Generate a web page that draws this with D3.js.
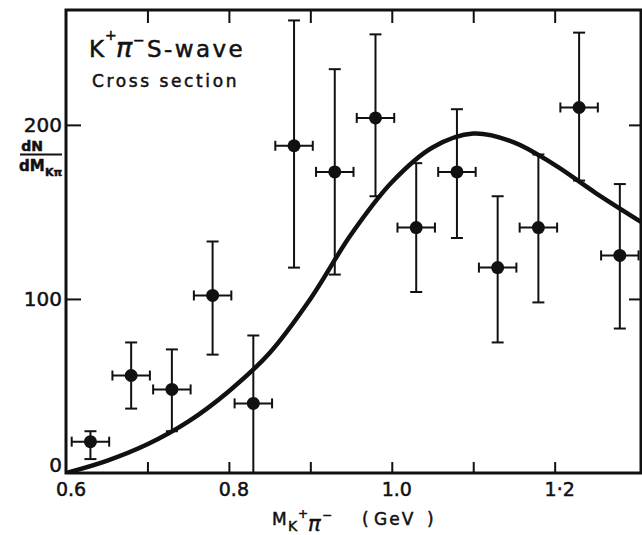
<!DOCTYPE html>
<html>
<head>
<meta charset="utf-8">
<script src="https://cdn.jsdelivr.net/npm/d3@7"></script>
<style>
  body { margin: 0; background: #fff; }
  text { font-family: 'DejaVu Sans', sans-serif; fill: #111; stroke: #111; stroke-width: 0.5px; }
</style>
</head>
<body>
<div id="chart"></div>
<script>
// data
const mass = [0.63, 0.68, 0.73, 0.78, 0.83, 0.88, 0.93, 0.98, 1.03, 1.08, 1.13, 1.18, 1.23, 1.28]
const counts = [18, 56, 48, 102, 40, 188, 173, 204, 141, 173, 118, 141, 210, 125]
const errHigh = [24, 75, 71, 133, 79, 260, 232, 252, 178, 209, 159, 183, 253, 166]
const errLow = [8, 37, 24, 68, 0, 118, 114, 159, 104, 135, 75, 98, 168, 83]
const binHalf = 0.023

// fitted curve, read every 0.05 GeV
const curveMass = [0.6, 0.65, 0.7, 0.75, 0.8, 0.85, 0.9, 0.95, 1.0, 1.05, 1.1, 1.15, 1.2, 1.25, 1.307]
const curveValue = [0, 7, 16.5, 29.5, 47, 69, 100, 137, 167, 187, 195, 190, 177, 161, 144]

// ticks
const xTicks = [0.7, 0.8, 0.9, 1.0, 1.1, 1.2]
const xLabels = [0.6, 0.8, 1.0, 1.2]
const xLabelText = ['0.6', '0.8', '1.0', '1·2']
const yTicks = [100, 200]
const yLabels = [0, 100, 200]

// size
const margin = { left: 66, right: 1, top: 10, bottom: 62 }
const width = 642 - margin.left - margin.right
const height = 535 - margin.top - margin.bottom

// scale
const x = d3.scaleLinear().domain([0.6, 1.306]).range([0, width])
const y = d3.scaleLinear().domain([0, 266]).range([height, 0])

const svg = d3
  .select('#chart')
  .append('svg')
  .attr('width', 642)
  .attr('height', 535)

const plot = svg
  .append('g')
  .attr('transform', `translate(${margin.left}, ${margin.top})`)

plot
  .append('clipPath')
  .attr('id', 'clip')
  .append('rect')
  .attr('width', width)
  .attr('height', height)

// inward ticks on all four sides
const tickStyle = g => {
  g.select('.domain').remove()
  g.selectAll('.tick line').attr('stroke', '#111').attr('stroke-width', 2)
}
plot
  .append('g')
  .attr('transform', `translate(0, ${height})`)
  .call(d3.axisBottom(x).tickValues(xTicks).tickSize(-11).tickFormat(''))
  .call(tickStyle)
plot
  .append('g')
  .call(d3.axisTop(x).tickValues(xTicks).tickSize(-13).tickFormat(''))
  .call(tickStyle)
plot
  .append('g')
  .call(d3.axisLeft(y).tickValues(yTicks).tickSize(-15).tickFormat(''))
  .call(tickStyle)
plot
  .append('g')
  .attr('transform', `translate(${width}, 0)`)
  .call(d3.axisRight(y).tickValues(yTicks).tickSize(-12).tickFormat(''))
  .call(tickStyle)

// frame
plot
  .append('rect')
  .attr('width', width)
  .attr('height', height)
  .attr('fill', 'none')
  .attr('stroke', '#111')
  .attr('stroke-width', 3)

// tick labels
plot
  .selectAll('text.xlab')
  .data(xLabels)
  .join('text')
  .attr('class', 'xlab')
  .attr('x', d => x(d) + 5)
  .attr('y', height + 23)
  .attr('text-anchor', 'middle')
  .attr('font-size', '19px')
  .text((d, i) => xLabelText[i])

plot
  .selectAll('text.ylab')
  .data(yLabels)
  .join('text')
  .attr('class', 'ylab')
  .attr('x', -4)
  .attr('y', d => Math.min(y(d) + 7, height - 1))
  .attr('text-anchor', 'end')
  .attr('font-size', '20px')
  .text(d => d)

// curve
const line = d3
  .line()
  .x(d => x(d[0]))
  .y(d => y(d[1]))
  .curve(d3.curveCatmullRom)

plot
  .append('path')
  .datum(curveMass.map((m, i) => [m, curveValue[i]]))
  .attr('clip-path', 'url(#clip)')
  .attr('d', line)
  .attr('fill', 'none')
  .attr('stroke', '#111')
  .attr('stroke-width', 4.5)

// error bars
const points = mass.map((m, i) => ({
  m,
  v: counts[i],
  hi: errHigh[i],
  lo: errLow[i],
}))

const bars = plot
  .selectAll('g.point')
  .data(points)
  .join('g')
  .attr('class', 'point')
  .attr('stroke', '#111')
  .attr('stroke-width', 2)

bars
  .append('line')
  .attr('x1', d => x(d.m))
  .attr('x2', d => x(d.m))
  .attr('y1', d => y(d.hi))
  .attr('y2', d => y(d.lo))
bars
  .append('line')
  .attr('x1', d => x(d.m) - 6)
  .attr('x2', d => x(d.m) + 6)
  .attr('y1', d => y(d.hi))
  .attr('y2', d => y(d.hi))
bars
  .append('line')
  .attr('x1', d => x(d.m) - 6)
  .attr('x2', d => x(d.m) + 6)
  .attr('y1', d => y(d.lo))
  .attr('y2', d => y(d.lo))
bars
  .append('line')
  .attr('x1', d => x(d.m - binHalf))
  .attr('x2', d => x(d.m + binHalf))
  .attr('y1', d => y(d.v))
  .attr('y2', d => y(d.v))
bars
  .append('line')
  .attr('x1', d => x(d.m - binHalf))
  .attr('x2', d => x(d.m - binHalf))
  .attr('y1', d => y(d.v) - 5)
  .attr('y2', d => y(d.v) + 5)
bars
  .append('line')
  .attr('x1', d => x(d.m + binHalf))
  .attr('x2', d => x(d.m + binHalf))
  .attr('y1', d => y(d.v) - 5)
  .attr('y2', d => y(d.v) + 5)
bars
  .append('circle')
  .attr('cx', d => x(d.m))
  .attr('cy', d => y(d.v))
  .attr('r', 6.5)
  .attr('fill', '#111')
  .attr('stroke', 'none')

// title K+ pi- S-wave
const title = svg.append('g').attr('font-size', '23px')
title.append('text').attr('x', 89).attr('y', 57).text('K')
title.append('text').attr('x', 105).attr('y', 40).attr('font-size', '14px').text('+')
title.append('text').attr('x', 116).attr('y', 57).attr('font-size', '27px').attr('font-style', 'italic').text('π')
title.append('text').attr('x', 133).attr('y', 45).attr('font-size', '14px').text('−')
title.append('text').attr('x', 147).attr('y', 57).attr('letter-spacing', '2.4px').text('S-wave')

svg
  .append('text')
  .attr('x', 92)
  .attr('y', 87)
  .attr('font-size', '17px')
  .attr('letter-spacing', '2.6px')
  .text('Cross section')

// y-axis label dN / dM
svg
  .append('text')
  .attr('x', 32)
  .attr('y', 151)
  .attr('text-anchor', 'middle')
  .attr('font-size', '14px')
  .attr('font-weight', 'bold')
  .text('dN')
svg
  .append('line')
  .attr('x1', 20)
  .attr('x2', 62)
  .attr('y1', 154.5)
  .attr('y2', 154.5)
  .attr('stroke', '#111')
  .attr('stroke-width', 2)
const dm = svg.append('g').attr('font-weight', 'bold')
dm.append('text').attr('x', 19).attr('y', 171).attr('font-size', '15px').text('dM')
dm.append('text').attr('x', 45).attr('y', 176).attr('font-size', '11px').text('Kπ')

// x-axis label
const xl = svg.append('g').attr('font-size', '17px')
xl.append('text').attr('x', 272).attr('y', 525).text('M')
xl.append('text').attr('x', 288).attr('y', 531).attr('font-size', '14px').text('K')
xl.append('text').attr('x', 298).attr('y', 518).attr('font-size', '12px').text('+')
xl.append('text').attr('x', 308).attr('y', 531).attr('font-size', '21px').attr('font-style', 'italic').text('π')
xl.append('text').attr('x', 322).attr('y', 519).attr('font-size', '12px').text('−')
xl.append('text').attr('x', 362).attr('y', 525).text('(')
xl.append('text').attr('x', 374).attr('y', 525).attr('letter-spacing', '2px').text('GeV')
xl.append('text').attr('x', 427).attr('y', 525).text(')')
</script>
</body>
</html>
